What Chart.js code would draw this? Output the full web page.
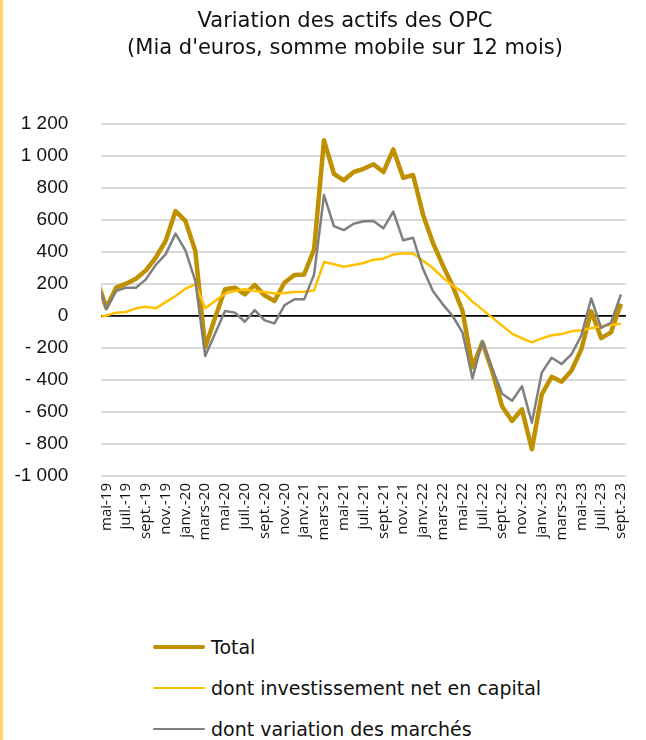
<!DOCTYPE html>
<html>
<head>
<meta charset="utf-8">
<script src="https://cdn.jsdelivr.net/npm/chart.js@4.4.1/dist/chart.umd.min.js"></script>
<style>
html,body{margin:0;padding:0;background:#fff;}
body{width:646px;height:740px;position:relative;overflow:hidden;}
#wrap{position:absolute;left:0;top:0;width:646px;height:580px;}
#bar{position:absolute;left:0;top:0;width:3px;height:740px;background:#FFD966;}
.tt{position:absolute;left:0;width:690px;text-align:center;font-family:'DejaVu Sans';font-size:21px;line-height:27px;color:#111;white-space:nowrap;}
.lg{position:absolute;left:153px;height:24px;display:flex;align-items:center;font-family:'DejaVu Sans';font-size:19px;color:#111;white-space:nowrap;}
.lg .ln{width:52px;border-radius:2px;margin-right:6px;}
</style>
</head>
<body>
<div id="wrap"><canvas id="c" width="646" height="580"></canvas></div>
<div id="bar"></div>
<div class="tt" id="t1" style="top:7px"></div>
<div class="tt" id="t2" style="top:34px"></div>
<div class="lg" style="top:635px"><div class="ln" style="height:4px;background:#BF9000"></div><span>Total</span></div>
<div class="lg" style="top:676px"><div class="ln" style="height:2.5px;background:#FFC000"></div><span>dont investissement net en capital</span></div>
<div class="lg" style="top:717px"><div class="ln" style="height:2.5px;background:#7F7F7F"></div><span>dont variation des marchés</span></div>
<script>
// Months (first entry only partly visible at the left edge of the plot)
const months = ['avr.-19','mai-19','juin-19','juil.-19','août-19','sept.-19','oct.-19','nov.-19','déc.-19',
  'janv.-20','févr.-20','mars-20','avr.-20','mai-20','juin-20','juil.-20','août-20','sept.-20','oct.-20','nov.-20','déc.-20',
  'janv.-21','févr.-21','mars-21','avr.-21','mai-21','juin-21','juil.-21','août-21','sept.-21','oct.-21','nov.-21','déc.-21',
  'janv.-22','févr.-22','mars-22','avr.-22','mai-22','juin-22','juil.-22','août-22','sept.-22','oct.-22','nov.-22','déc.-22',
  'janv.-23','févr.-23','mars-23','avr.-23','mai-23','juin-23','juil.-23','août-23','sept.-23'];

const total = [240, 52,177,202,233,285,364,469,656,594,406,-195,-10,167,177,135,194,129,94,208,256,260,417,
  1098,889,848,900,920,948,900,1041,864,881,635,458,318,187,31,-320,-165,-345,-566,-656,-583,-833,
  -490,-380,-411,-342,-208,29,-138,-102,77];

const invest = [-11, 3,21,25,48,58,48,87,125,171,198,48,94,140,156,167,156,150,140,144,150,152,160,
  337,323,308,319,331,352,358,385,392,390,345,300,240,190,150,90,40,-10,-60,-110,-140,-165,
  -140,-120,-112,-96,-89,-76,-62,-56,-48];

const marches = [236, 42,156,177,177,229,319,385,515,410,219,-250,-110,31,21,-36,37,-27,-46,67,104,104,260,
  756,562,537,577,592,594,548,652,473,489,295,156,73,0,-104,-390,-156,-330,-486,-530,-440,-667,
  -354,-261,-300,-240,-122,110,-75,-42,135];

const yTickValues = [1200,1000,800,600,400,200,0,-200,-400,-600,-800,-1000];
const yTickLabels = ['1 200','1 000','800','600','400','200','0','- 200','- 400','- 600','- 800','-1 000'];

const titleLines = ["Variation des actifs des OPC", "(Mia d'euros, somme mobile sur 12 mois)"];
document.getElementById('t1').textContent = titleLines[0];
document.getElementById('t2').textContent = titleLines[1];

new Chart(document.getElementById('c'), {
  type: 'line',
  data: {
    labels: months,
    datasets: [
      {label:'Total', data: total, borderColor:'#BF9000', borderWidth:4.5, order:3},
      {label:'dont investissement net en capital', data: invest, borderColor:'#FFC000', borderWidth:2.5, order:2},
      {label:'dont variation des marchés', data: marches, borderColor:'#7F7F7F', borderWidth:2.5, order:1}
    ]
  },
  options: {
    responsive:false, animation:false, devicePixelRatio:1,
    elements:{point:{radius:0, hoverRadius:0}, line:{tension:0, borderJoinStyle:'round', fill:false}},
    layout:{padding:{left:0, right:6.7, top:124, bottom:0}},
    plugins:{
      legend:{display:false},
      tooltip:{enabled:false},
      title:{display:false}
    },
    scales:{
      x:{
        type:'category', min:'mai-19', offset:true,
        grid:{display:false, drawTicks:false}, border:{display:false},
        ticks:{autoSkip:false, minRotation:90, maxRotation:90, padding:7, color:'#111',
          font:{family:'Open Sans', size:15},
          callback:(v)=> (v % 2 === 1 ? months[v] : '')},
        afterFit:(s)=>{ s.height = 580 - 476; }
      },
      y:{
        min:-1000, max:1200,
        grid:{drawTicks:false,
          color:(c)=> (c.tick && c.tick.value === 0 ? '#000000' : '#D9D9D9'),
          lineWidth:(c)=> (c.tick && c.tick.value === 0 ? 1.75 : 2)},
        border:{display:false},
        ticks:{stepSize:200, padding:33, color:'#111',
          font:{family:'Liberation Sans', size:19},
          callback:(v)=>{ const k = yTickValues.indexOf(v); return k >= 0 ? yTickLabels[k] : ''; }},
        afterFit:(s)=>{ s.width = 101.3; }
      }
    }
  }
});
</script>
</body>
</html>
